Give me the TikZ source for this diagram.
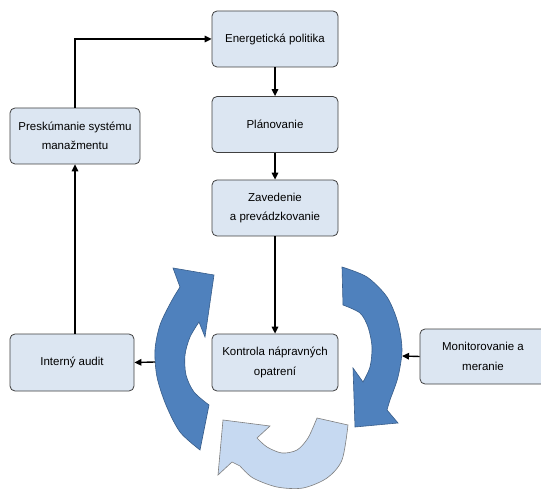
\documentclass[tikz,border=0pt]{standalone}
\usepackage{fontspec}
\setmainfont{Liberation Sans}
\usetikzlibrary{arrows.meta}
\definecolor{boxfill}{HTML}{DCE6F2}
\definecolor{boxline}{HTML}{404040}
\definecolor{darkarc}{HTML}{4F81BD}
\definecolor{darkarcline}{HTML}{385D8A}
\definecolor{lightarc}{HTML}{C6D9F1}
\definecolor{lightarcline}{HTML}{7F7F7F}
\begin{document}
\begin{tikzpicture}[x=1pt,y=-1pt,
  box/.style={draw=boxline, line width=0.8pt, fill=boxfill, rounded corners=5pt,
    minimum width=126pt, minimum height=56pt, align=center,
    font=\fontsize{11.5}{19.5}\selectfont, inner sep=2pt},
  arr/.style={draw=black, line width=1.4pt, -{Triangle[length=7pt,width=6.5pt]}},
  darkring/.style={fill=darkarc, draw=darkarcline, line width=0.6pt},
  lightring/.style={fill=lightarc, draw=lightarcline, line width=0.6pt}]
\clip (0,0) rectangle (541,489);
\fill[white] (0,0) rectangle (541,489);

% circular arrows
\path[darkring] plot[smooth] coordinates {(200,450) (180,432) (166,405) (157,377) (155,350) (160,325) (171,302) (180,287)}
  -- (173,268) -- (214,275) -- (205,337) -- (199,322)
  -- plot[smooth] coordinates {(199,322) (190,337) (185,355) (186,375) (194,392) (209,405)} -- cycle;
\path[darkring] plot[smooth] coordinates {(342,267) (367,277) (387,297) (398,323) (402,350) (398,377) (390,400) (387,410)}
  -- (398,423) -- (355,427) -- (353,368) -- (363,382)
  -- plot[smooth] coordinates {(363,382) (370,367) (372,347) (368,327) (360,313) (343,305)} -- cycle;
\path[lightring] plot[smooth] coordinates {(348,425) (342,460) (327,478) (303,488) (277,487) (253,478) (240,466)}
  -- (232,462) -- (218,475) -- (223,420) -- (270,426) -- (257,438)
  -- plot[smooth] coordinates {(257,438) (267,447) (282,453) (297,450) (308,438) (317,418)} -- cycle;

% boxes
\node[box] (E) at (275,39) {Energetická politika};
\node[box] (P) at (275,124.5) {Plánovanie};
\node[box] (Z) at (275,208) {Zavedenie\\a prevádzkovanie};
\node[box, minimum width=130pt] (R) at (75,136) {Preskúmanie systému\\manažmentu};
\node[box, minimum width=124pt, minimum height=57pt] (I) at (72,362.5) {Interný audit};
\node[box, minimum height=57pt] (K) at (275,362.5) {Kontrola nápravných\\opatrení};
\node[box, minimum height=55pt] (M) at (483,356.5) {Monitorovanie a\\meranie};

\coordinate (la) at (155,362);
\coordinate (ra) at (402,356);

% connectors
\draw[arr] (R.north) |- (E.west);
\draw[arr] (E.south) -- (P.north);
\draw[arr] (P.south) -- (Z.north);
\draw[arr] (Z.south) -- (K.north);
\draw[arr] (R.south |- I.north) -- (R.south);
\draw[arr] (la) -- (I.east);
\draw[arr] (M.west) -- (ra);
\end{tikzpicture}
\end{document}
